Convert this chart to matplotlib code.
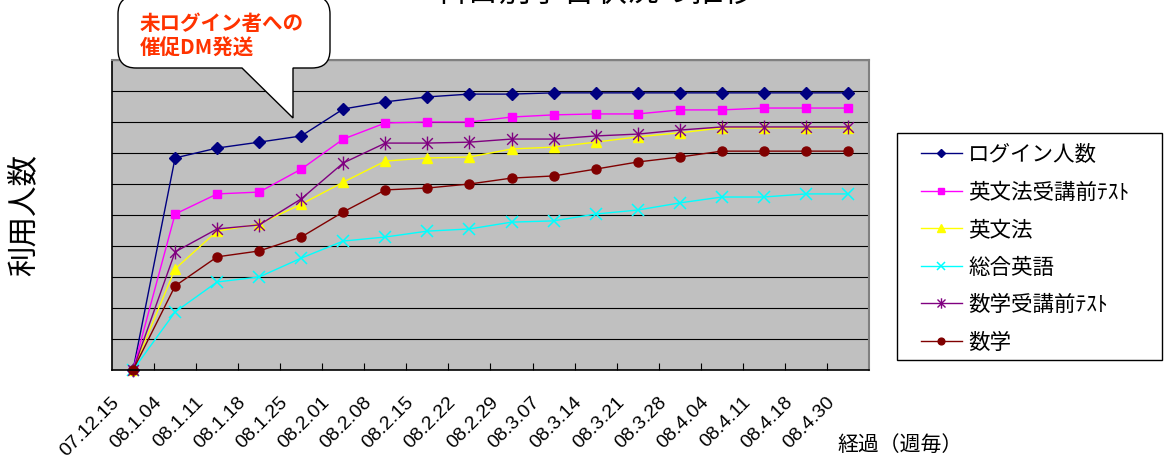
import numpy as np
import matplotlib
matplotlib.use("Agg")
import matplotlib.pyplot as plt
from matplotlib.path import Path
from matplotlib.patches import PathPatch, Rectangle
from matplotlib.transforms import ScaledTranslation

JP = ["Noto Sans CJK JP", "DejaVu Sans"]
LATIN = ["Liberation Sans", "DejaVu Sans"]

weeks = ["07.12.15", "08.1.04", "08.1.11", "08.1.18", "08.1.25", "08.2.01",
         "08.2.08", "08.2.15", "08.2.22", "08.2.29", "08.3.07", "08.3.14",
         "08.3.21", "08.3.28", "08.4.04", "08.4.11", "08.4.18", "08.4.30"]

login = [0, 68.4, 71.6, 73.5, 75.5, 84.2, 86.5, 88.1, 89.0, 89.0,
         89.4, 89.4, 89.4, 89.4, 89.4, 89.4, 89.4, 89.4]
eng_grammar_pre = [0, 50.3, 56.8, 57.4, 64.8, 74.5, 79.7, 80.0, 80.0, 81.6,
                   82.3, 82.6, 82.6, 83.9, 83.9, 84.5, 84.5, 84.5]
eng_grammar = [0, 32.6, 44.8, 47.1, 53.5, 60.6, 67.4, 68.4, 68.7, 71.3,
               71.9, 73.5, 75.2, 76.5, 78.1, 78.1, 78.1, 78.1]
eng_general = [0, 18.7, 28.4, 30.0, 36.1, 41.6, 42.9, 44.8, 45.5, 47.7,
               48.1, 50.3, 51.6, 53.9, 55.8, 55.8, 56.8, 56.8]
math_pre = [0, 38.1, 45.5, 46.8, 55.2, 66.8, 73.2, 73.2, 73.5, 74.5,
            74.5, 75.5, 76.1, 77.4, 78.4, 78.4, 78.4, 78.4]
math = [0, 27.1, 36.5, 38.4, 42.9, 51.0, 58.1, 58.7, 60.0, 61.9,
        62.6, 64.8, 67.1, 68.7, 70.6, 70.6, 70.6, 70.6]

series_names = ["ログイン人数", "英文法受講前ﾃｽﾄ", "英文法", "総合英語",
                "数学受講前ﾃｽﾄ", "数学"]
series_values = [login, eng_grammar_pre, eng_grammar, eng_general, math_pre, math]

# asterisk marker: an x with a vertical bar through it
asterisk = Path([(-1, -1), (1, 1), (-1, 1), (1, -1), (0, -1.3), (0, 1.3)],
                [Path.MOVETO, Path.LINETO] * 3)

styles = [
    dict(color="#000080", marker="D", ms=6),
    dict(color="#FF00FF", marker="s", ms=6),
    dict(color="#FFFF00", marker="^", ms=7.5),
    dict(color="#00FFFF", marker="x", ms=8, mew=1.1),
    dict(color="#800080", marker=asterisk, ms=10, mew=1.0),
    dict(color="#800000", marker="o", ms=6.5),
]

W, H = 1164, 459


def fx(px):
    return px / W


def fy(py):
    return 1 - py / H


fig = plt.figure(figsize=(W / 100, H / 100), dpi=100)
ax = fig.add_axes([fx(112), fy(370), fx(869 - 112), (370 - 60) / H])
ax.set_facecolor("#C0C0C0")

x = np.arange(len(weeks))
for name, vals, st in zip(series_names, series_values, styles):
    ax.plot(x, vals, lw=1.0, label=name, clip_on=False, mec=st["color"],
            mfc=st["color"], **st)

ax.set_xlim(-0.5, len(weeks) - 0.5)
ax.set_ylim(0, 100)
ax.set_yticks(np.arange(0, 101, 10))
ax.set_yticklabels([])
ax.tick_params(axis="y", length=0)
ax.yaxis.grid(True, color="black", lw=0.8)
ax.set_axisbelow(True)

ax.set_xticks(x)
ax.set_xticklabels(weeks, rotation=45, ha="right", va="top",
                   rotation_mode="anchor", fontsize=14, family=LATIN)
ax.set_xticks(np.arange(0.5, len(weeks) - 1, 1), minor=True)
ax.tick_params(axis="x", which="major", length=0, pad=0)
ax.tick_params(axis="x", which="minor", direction="in", length=5, width=0.8)
shift = ScaledTranslation(-0.22, -0.24, fig.dpi_scale_trans)
for lab in ax.get_xticklabels():
    lab.set_transform(lab.get_transform() + shift)

for side in ("left", "bottom"):
    ax.spines[side].set_color("black")
    ax.spines[side].set_linewidth(1.2)
for side in ("top", "right"):
    ax.spines[side].set_color("#808080")
    ax.spines[side].set_linewidth(1.5)

# axis titles and the (partly cut off) chart title
fig.text(fx(24), fy(215), "利用人数", rotation=90, ha="center", va="center",
         fontsize=22, family=JP)
fig.text(fx(900), fy(445), "経過（週毎）", ha="center", va="center",
         fontsize=15, family=JP)
fig.text(fx(595), fy(1), "科目別学習状況の推移", ha="center", va="baseline",
         fontsize=23, family=JP)

# legend box on the right
fig.patches.append(Rectangle((fx(897), fy(360)), fx(1162 - 897), (360 - 133) / H,
                             transform=fig.transFigure, facecolor="white",
                             edgecolor="black", lw=1.0, zorder=-1))
leg = ax.legend(loc="upper left", bbox_to_anchor=(fx(921), fy(144)),
                bbox_transform=fig.transFigure, frameon=False, borderpad=0,
                borderaxespad=0, handlelength=1.9, handletextpad=0.3,
                labelspacing=0.72, markerscale=0.75,
                prop={"family": JP, "size": 15.5})

# speech bubble pointing at the plot
L, R, T, B, r = 118, 330, -4, 68, 18
tail_l, tail_r, tip_y = 242, 293, 118
pts = [(L + r, B), (tail_l, B), (tail_r, tip_y), (tail_r, B), (R - r, B),
       (R, B), (R, B - r), (R, T + r), (R, T), (R - r, T), (L + r, T),
       (L, T), (L, T + r), (L, B - r), (L, B), (L + r, B)]
codes = [Path.MOVETO, Path.LINETO, Path.LINETO, Path.LINETO, Path.LINETO,
         Path.CURVE3, Path.CURVE3, Path.LINETO, Path.CURVE3, Path.CURVE3,
         Path.LINETO, Path.CURVE3, Path.CURVE3, Path.LINETO, Path.CURVE3,
         Path.CURVE3]
bubble = Path([(fx(a), fy(b)) for a, b in pts], codes)
fig.patches.append(PathPatch(bubble, transform=fig.transFigure,
                             facecolor="white", edgecolor="black", lw=1.0,
                             zorder=5))
fig.text(fx(140), fy(23), "未ログイン者への", ha="left", va="center",
         fontsize=14.8, fontweight="bold", color="#FF3300", family=JP, zorder=6)
fig.text(fx(140), fy(48), "催促DM発送", ha="left", va="center",
         fontsize=14.8, fontweight="bold", color="#FF3300", family=JP, zorder=6)

fig.savefig("out.png", dpi=100)
